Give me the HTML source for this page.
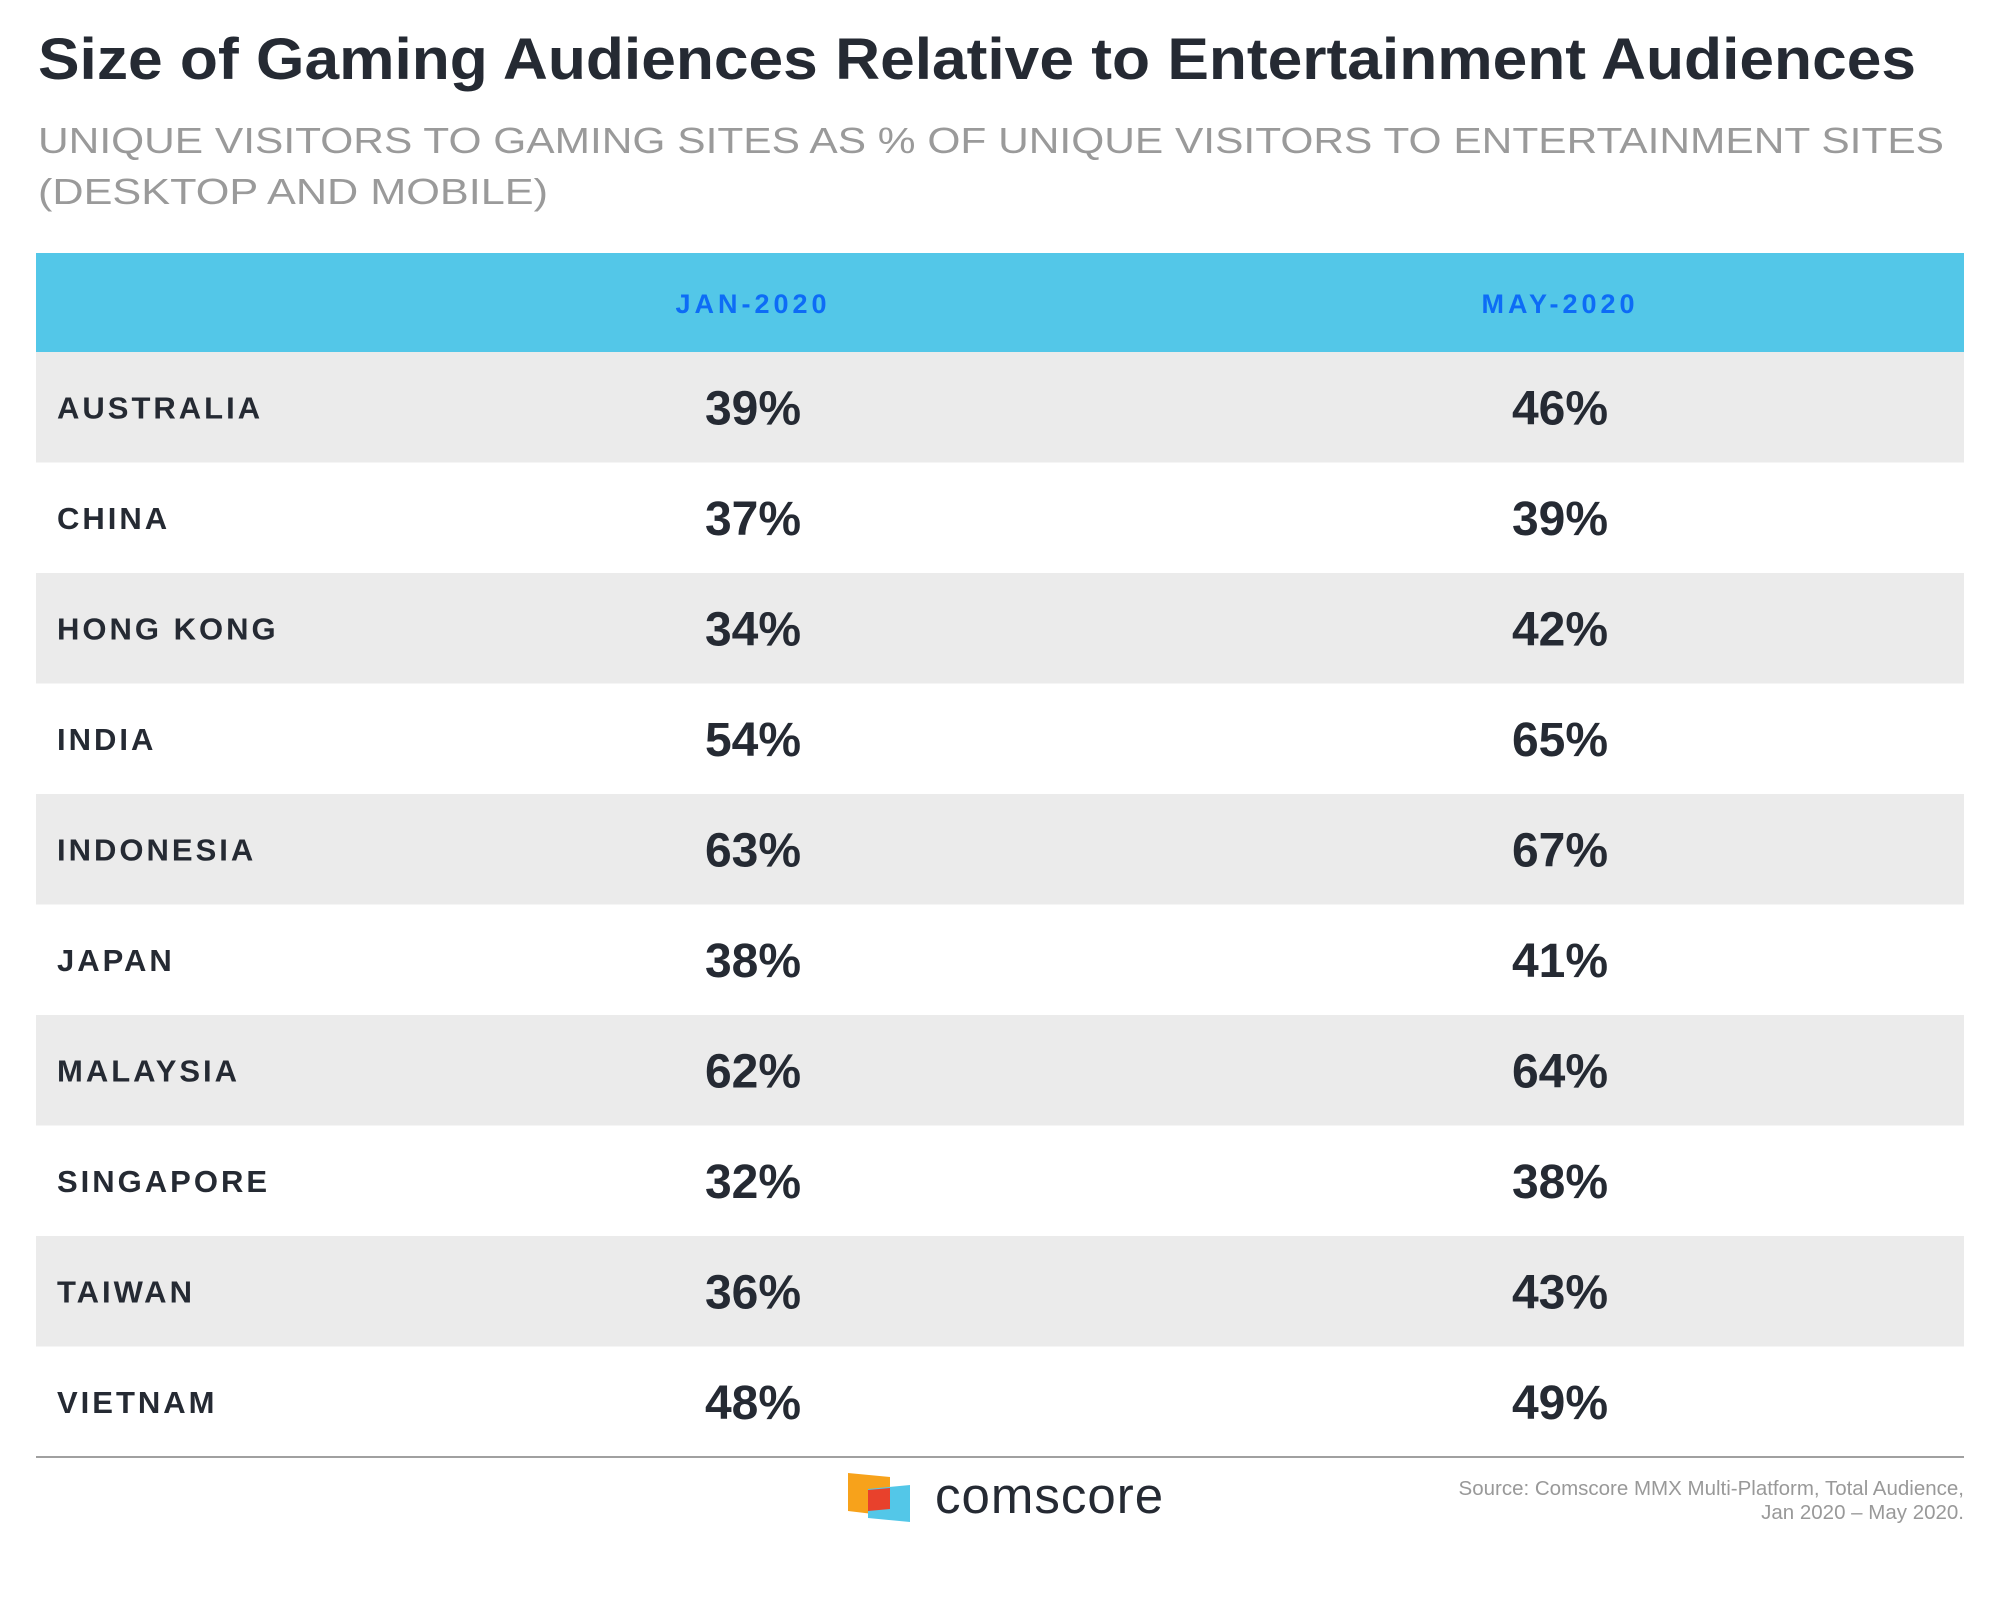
<!DOCTYPE html>
<html><head><meta charset="utf-8"><style>
html,body{margin:0;padding:0;background:#fff;}
svg{display:block;font-family:"Liberation Sans",sans-serif;}
</style></head><body>
<svg id="chart" width="2000" height="1600" viewBox="0 0 2000 1600" xmlns="http://www.w3.org/2000/svg">
<rect width="2000" height="1600" fill="#fff"/>
<text x="38" y="79" font-size="58" font-weight="bold" fill="#252a33" textLength="1878" lengthAdjust="spacingAndGlyphs">Size of Gaming Audiences Relative to Entertainment Audiences</text>
<text x="38" y="153" font-size="36" fill="#9a9a9a" textLength="1906" lengthAdjust="spacingAndGlyphs">UNIQUE VISITORS TO GAMING SITES AS % OF UNIQUE VISITORS TO ENTERTAINMENT SITES</text>
<text x="38" y="204" font-size="36" fill="#9a9a9a" textLength="510" lengthAdjust="spacingAndGlyphs">(DESKTOP AND MOBILE)</text>
<rect x="36" y="253" width="1928" height="99" fill="#53c7e8"/>
<text x="753" y="313" font-size="27" font-weight="bold" fill="#0d6cf6" text-anchor="middle" letter-spacing="4">JAN-2020</text>
<text x="1560" y="313" font-size="27" font-weight="bold" fill="#0d6cf6" text-anchor="middle" letter-spacing="4">MAY-2020</text>
<g id="rows"></g>
<line x1="36" y1="1457" x2="1964" y2="1457" stroke="#a0a0a0" stroke-width="2"/>
<g>
<polygon points="848,1473 890,1477 890,1516 848,1511" fill="#f7a21b"/>
<polygon points="868,1489 910,1485 910,1522 868,1518" fill="#53c7e8"/>
<polygon points="868,1490 890,1488 890,1509 868,1511" fill="#e8412c"/>
<text x="935" y="1513" font-size="51" fill="#252a33" letter-spacing="1">comscore</text>
</g>
<text x="1964" y="1495" font-size="20.5" fill="#999" text-anchor="end">Source: Comscore MMX Multi-Platform, Total Audience,</text>
<text x="1964" y="1519" font-size="20.5" fill="#999" text-anchor="end">Jan 2020 – May 2020.</text>
</svg>
<script>
const countries = ["AUSTRALIA","CHINA","HONG KONG","INDIA","INDONESIA","JAPAN","MALAYSIA","SINGAPORE","TAIWAN","VIETNAM"];
const jan2020 = [39,37,34,54,63,38,62,32,36,48];
const may2020 = [46,39,42,65,67,41,64,38,43,49];
const NS = "http://www.w3.org/2000/svg";
const g = document.getElementById("rows");
const top0 = 352, rowH = 110.5;
function rowY(i){ return top0 + i*rowH; }
function mk(tag, attrs){ const e=document.createElementNS(NS,tag); for(const k in attrs) e.setAttribute(k,attrs[k]); return e; }
countries.forEach((c,i)=>{
  const y = rowY(i);
  if(i%2===0){
    const r = mk("rect",{x:36,y:y,width:1928,height:rowH,fill:"#ebebeb"});
    
    
    g.appendChild(r);
  }
  const t = mk("text",{x:57,y:y+rowH/2+11,"font-size":31,"font-weight":"bold",fill:"#252a33","letter-spacing":3});
  
  
  t.textContent = c; g.appendChild(t);
  const a = mk("text",{x:753,y:y+rowH/2+17,"font-size":48,"font-weight":"bold",fill:"#252a33","text-anchor":"middle"});
  
  
  a.textContent = jan2020[i]+"%"; g.appendChild(a);
  const b = mk("text",{x:1560,y:y+rowH/2+17,"font-size":48,"font-weight":"bold",fill:"#252a33","text-anchor":"middle"});
  
  
  b.textContent = may2020[i]+"%"; g.appendChild(b);
});
</script>
</body></html>
